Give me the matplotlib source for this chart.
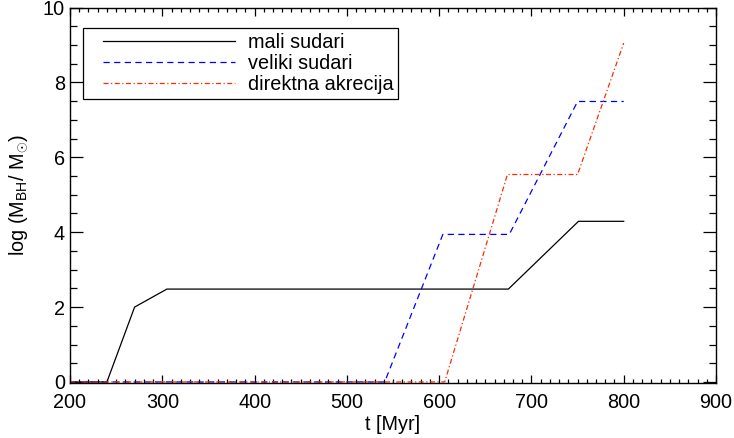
import matplotlib
matplotlib.use("Agg")
import numpy as np
import matplotlib.pyplot as plt
from matplotlib.legend_handler import HandlerLine2D

plt.rcParams['font.family'] = ['Liberation Sans', 'DejaVu Sans']
plt.rcParams['mathtext.fontset'] = 'custom'
plt.rcParams['mathtext.rm'] = 'Liberation Sans'
plt.rcParams['mathtext.it'] = 'Liberation Sans:italic'

# data
t_mali = [200, 240, 270, 305, 675, 751, 800]
m_mali = [0.0, 0.0, 2.0, 2.48, 2.48, 4.29, 4.29]
t_veliki = [200, 541, 604, 676, 750, 800]
m_veliki = [0.0, 0.0, 3.94, 3.94, 7.49, 7.49]
t_direkt = [200, 606, 674, 750, 800]
m_direkt = [0.0, 0.0, 5.54, 5.54, 9.05]
labels = ["mali sudari", "veliki sudari", "direktna akrecija"]


class OffsetLineHandler(HandlerLine2D):
    def __init__(self, offset_pt, **kw):
        super().__init__(**kw)
        self.offset_pt = offset_pt

    def create_artists(self, legend, orig_handle, xdescent, ydescent, width,
                       height, fontsize, trans):
        arts = super().create_artists(legend, orig_handle, xdescent, ydescent,
                                      width, height, fontsize, trans)
        for a in arts:
            xd = np.asarray(a.get_xdata(), dtype=float)
            if len(xd) >= 2:
                a.set_xdata(np.linspace(xd[0] + self.offset_pt, xd[-1], len(xd)))
        return arts


fig = plt.figure(figsize=(7.34, 4.38), dpi=100)
ax = fig.add_axes([70/734, 1-382.7/438, (716-70)/734, (382.7-7.5)/438])

l1, = ax.plot(t_mali, m_mali, color='black', lw=0.9, ls='-', label=labels[0])
l2, = ax.plot(t_veliki, m_veliki, color='#0000ff', lw=0.9, ls=(0, (5, 3.5)), label=labels[1])
l3, = ax.plot(t_direkt, m_direkt, color='#ff2a00', lw=0.9, ls=(0, (4, 2, 1, 2)), label=labels[2])

ax.set_xlim(200, 900)
ax.set_ylim(-0.02, 10)
ax.set_xticks([200, 300, 400, 500, 600, 700, 800, 900])
ax.set_yticks([0, 2, 4, 6, 8, 10])
ax.set_xticks(range(200, 901, 10), minor=True)
ax.set_yticks([i * 0.5 for i in range(21)], minor=True)
ax.tick_params(which='both', direction='in', top=True, right=True, labelsize=14.3, width=0.9)
ax.tick_params(axis='x', which='major', length=5.8, pad=7.5)
ax.tick_params(axis='x', which='minor', length=3)
ax.tick_params(axis='y', which='major', length=9.4, pad=3.6)
ax.tick_params(axis='y', which='minor', length=5)
for s in ax.spines.values():
    s.set_linewidth(1.0)

ax.set_xlabel('t [Myr]', fontsize=14.3, labelpad=2)
ax.set_ylabel(r'log (M$_{\rm BH}$/ M$_{\odot}$)', fontsize=14.3, labelpad=9)

h = OffsetLineHandler(offset_pt=10.6)
leg = ax.legend(handles=[l1, l2, l3], loc='upper left',
                bbox_to_anchor=(83/734, 1-28/438), bbox_transform=fig.transFigure,
                borderaxespad=0, fontsize=14.3, handlelength=7.4, handletextpad=0.64,
                labelspacing=0.1, borderpad=0.25, fancybox=False, framealpha=1,
                edgecolor='black',
                handler_map={l1: h, l2: h, l3: h})
leg.get_frame().set_linewidth(0.9)

fig.savefig('out.png', dpi=100)
